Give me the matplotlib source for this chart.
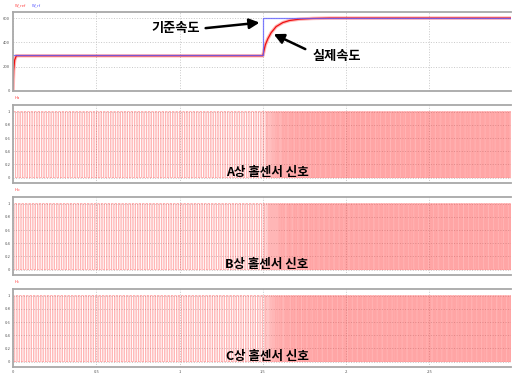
import numpy as np
import matplotlib
matplotlib.use('Agg')
import matplotlib.pyplot as plt

plt.rcParams['font.family'] = ['Noto Sans CJK KR', 'DejaVu Sans']

# 속도 지령 / 실제 속도 (rpm)
t_ref = [0.0, 1.5, 1.5, 2.99]
w_ref = [300, 300, 600, 600]
t_act = [0.0, 0.004, 0.01, 0.02, 1.5, 1.505, 1.515, 1.53, 1.55, 1.58, 1.62, 1.66, 1.72, 1.8, 1.9, 2.1, 2.99]
w_act = [0, 170, 255, 290, 290, 320, 380, 430, 480, 530, 563, 580, 591, 597, 600, 600, 600]

# 홀센서
pole_pairs = 10
hall_names = ['Ha', 'Hb', 'Hc']
hall_phase = [0.0, -120.0, -240.0]
hall_labels = ['A상 홀센서 신호', 'B상 홀센서 신호', 'C상 홀센서 신호']

x_ticks = [0, 0.5, 1, 1.5, 2, 2.5]
x_ticklabels = ['0', '0.5', '1', '1.5', '2', '2.5']
w_ticks = [0, 200, 400, 600]
h_ticks = [0, 0.2, 0.4, 0.6, 0.8, 1]
h_ticklabels = ['0', '0.2', '0.4', '0.6', '0.8', '1']

W, H = 513, 377
fig = plt.figure(figsize=(W / 100, H / 100), dpi=100)


def make_ax(top, bottom):
    ax = fig.add_axes([13 / W, (H - bottom) / H, 498 / W, (bottom - top) / H])
    for s in ['top', 'bottom', 'left']:
        ax.spines[s].set_color('#a8a8a8')
        ax.spines[s].set_linewidth(1.3)
    ax.spines['right'].set_visible(False)
    ax.set_xlim(0, 2.99)
    ax.set_xticks(x_ticks)
    ax.tick_params(length=0, labelsize=3, colors='#555555', pad=2)
    ax.grid(True, color='#c8c8c8', linestyle=':', linewidth=0.7)
    ax.set_axisbelow(True)
    return ax


# 속도 그래프
ax0 = make_ax(12, 91)
ax0.plot(t_act, w_act, color='#ff3030', lw=2.5, alpha=0.35)
ax0.plot(t_act, w_act, color='#ee1010', lw=0.9)
ax0.plot(t_ref, w_ref, color='#6060ff', lw=0.9, alpha=0.8)
ax0.set_ylim(0, 650)
ax0.set_yticks(w_ticks)
ax0.set_xticklabels([])
fig.text(15 / W, 1 - 5 / H, 'W_ref', color='#ff4040', fontsize=3, va='center')
fig.text(32 / W, 1 - 5 / H, 'W_rf', color='#5050ff', fontsize=3, va='center')

ax0.annotate('', xy=(1.497, 565), xytext=(1.14, 515),
             arrowprops=dict(arrowstyle='-|>,head_length=0.6,head_width=0.3', color='black', lw=1.8))
ax0.text(0.975, 518, '기준속도', fontsize=9.5, fontweight='bold', ha='center', va='center')
ax0.annotate('', xy=(1.55, 478), xytext=(1.77, 335),
             arrowprops=dict(arrowstyle='-|>,head_length=0.6,head_width=0.3', color='black', lw=1.8))
ax0.text(1.945, 288, '실제속도', fontsize=9.5, fontweight='bold', ha='center', va='center')

# 홀센서 신호: 실제 속도에서 전기각 계산
t = np.linspace(0, 2.99, 12000)
w = np.interp(t, t_act, w_act)
theta = 2 * np.pi * pole_pairs * np.cumsum(w / 60.0) * (t[1] - t[0])

panels = [(105, 183), (197, 275), (289, 367)]
for i, (top, bottom) in enumerate(panels):
    ax = make_ax(top, bottom)
    sig = (np.sin(theta + np.radians(hall_phase[i])) >= 0).astype(float)
    ax.plot(t, sig, color='#ff3030', lw=0.5, alpha=0.5, drawstyle='steps-post')
    ax.set_ylim(-0.08, 1.1)
    ax.set_yticks(h_ticks)
    ax.set_yticklabels(h_ticklabels)
    if i < 2:
        ax.set_xticklabels([])
    else:
        ax.set_xticklabels(x_ticklabels)
    fig.text(15 / W, 1 - (top - 7) / H, hall_names[i], color='#ff4040', fontsize=3, va='center')
    ax.text(0.51, 0.14, hall_labels[i], transform=ax.transAxes, fontsize=9,
            fontweight='bold', ha='center', va='center')

fig.savefig('out.png', dpi=100)
